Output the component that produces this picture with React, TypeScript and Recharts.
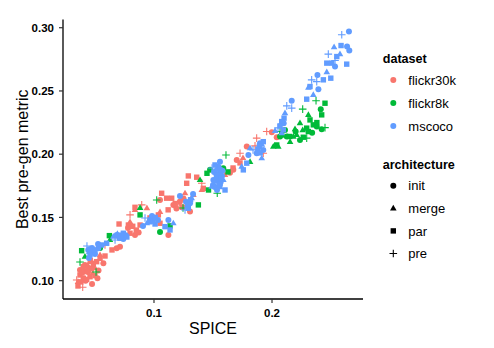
import React from 'react';
import { ScatterChart, Scatter, XAxis, YAxis } from 'recharts';

// ---- data: [SPICE, best pre-gen metric] ----
const flickr30kInit: [number, number][] = [
  [0.0521, 0.1019], [0.0571, 0.1137], [0.0441, 0.1069], [0.0475, 0.0974], [0.0684, 0.1256],
  [0.0712, 0.1269], [0.0839, 0.1361], [0.0780, 0.1417], [0.1122, 0.1361], [0.1305, 0.1546],
  [0.1220, 0.1625], [0.1164, 0.1599], [0.1644, 0.1854], [0.1672, 0.1876], [0.1786, 0.2060],
  [0.1998, 0.2174], [0.2040, 0.2134], [0.1701, 0.1955], [0.1051, 0.1638], [0.0373, 0.1084],
  [0.0415, 0.1124], [0.0420, 0.1000], [0.0530, 0.1080], [0.1190, 0.1570], [0.1250, 0.1650],
  [0.0870, 0.1380],
];
const flickr30kMerge: [number, number][] = [
  [0.0415, 0.1077], [0.0458, 0.1148], [0.0500, 0.1100], [0.0543, 0.1203], [0.0940, 0.1573],
  [0.0839, 0.1559], [0.1263, 0.1691], [0.1334, 0.1678], [0.1405, 0.1717], [0.1051, 0.1543],
  [0.1602, 0.1836], [0.1754, 0.1970], [0.0797, 0.1464], [0.0356, 0.0990], [0.0440, 0.1120],
  [0.0480, 0.1060],
];
const flickr30kPar: [number, number][] = [
  [0.0373, 0.1045], [0.0415, 0.1072], [0.0458, 0.1031], [0.0401, 0.1019], [0.0472, 0.1098],
  [0.0486, 0.1137], [0.0514, 0.1150], [0.0543, 0.1177], [0.0356, 0.0958], [0.0704, 0.1448],
  [0.0783, 0.1440], [0.0797, 0.1375], [0.0882, 0.1440], [0.0839, 0.1580], [0.1291, 0.1828],
  [0.1362, 0.1818], [0.1277, 0.1770], [0.1150, 0.1652], [0.1107, 0.1652], [0.1065, 0.1691],
  [0.1037, 0.1520], [0.1051, 0.1454], [0.1418, 0.1730], [0.1670, 0.1891], [0.1729, 0.1931],
  [0.0644, 0.1243], [0.0585, 0.1195], [0.0966, 0.1496], [0.0390, 0.1060], [0.0430, 0.1010],
  [0.0445, 0.1090], [0.0400, 0.1110], [0.0500, 0.1040], [0.0460, 0.1160], [0.0380, 0.0990],
  [0.1180, 0.1610], [0.1240, 0.1580], [0.1120, 0.1560], [0.0850, 0.1400], [0.0820, 0.1430],
];
const flickr30kPre: [number, number][] = [
  [0.0345, 0.1005], [0.0396, 0.0948], [0.0797, 0.1520], [0.0896, 0.1599], [0.1405, 0.1770],
  [0.1220, 0.1599], [0.1729, 0.2008], [0.1870, 0.2127], [0.1955, 0.2179], [0.1856, 0.2066],
  [0.1926, 0.2008], [0.0585, 0.1282],
];

const flickr8kInit: [number, number][] = [
  [0.2413, 0.2356], [0.2379, 0.2218], [0.2421, 0.2198], [0.2110, 0.2192], [0.2068, 0.2139],
  [0.2125, 0.2139], [0.2237, 0.2113], [0.1475, 0.1876], [0.1587, 0.1889], [0.0712, 0.1338],
  [0.0543, 0.1259], [0.1051, 0.1385], [0.2200, 0.2180], [0.2340, 0.2170],
];
const flickr8kMerge: [number, number][] = [
  [0.2308, 0.2311], [0.2237, 0.2245], [0.2195, 0.2198], [0.2209, 0.2152], [0.2181, 0.2139],
  [0.2011, 0.2060], [0.2053, 0.2060], [0.2153, 0.2097], [0.0415, 0.1190], [0.1390, 0.1796],
  [0.0882, 0.1575], [0.1814, 0.1939], [0.0627, 0.1322], [0.2260, 0.2190],
];
const flickr8kPar: [number, number][] = [
  [0.2449, 0.2403], [0.2421, 0.2311], [0.2322, 0.2271], [0.2350, 0.2232], [0.2294, 0.2206],
  [0.2308, 0.2179], [0.2082, 0.2152], [0.2040, 0.2073], [0.2265, 0.2134], [0.0387, 0.1237],
  [0.0622, 0.1356], [0.1462, 0.1717], [0.1449, 0.1849], [0.1376, 0.1599], [0.0882, 0.1520],
  [0.1136, 0.1433], [0.1627, 0.1860], [0.2150, 0.2140], [0.2380, 0.2250],
];
const flickr8kPre: [number, number][] = [
  [0.2373, 0.2422], [0.2260, 0.2356], [0.2449, 0.2210], [0.2294, 0.2127], [0.2068, 0.2179],
  [0.1536, 0.1691], [0.1023, 0.1638], [0.1246, 0.1575], [0.0373, 0.1148], [0.0509, 0.1069],
  [0.1610, 0.1994],
];

const mscocoInit: [number, number][] = [
  [0.2652, 0.2970], [0.2636, 0.2851], [0.2655, 0.2819], [0.2534, 0.2693], [0.2385, 0.2627],
  [0.2393, 0.2514], [0.2167, 0.2422], [0.2093, 0.2247], [0.1898, 0.2087], [0.1926, 0.2034],
  [0.1870, 0.2008], [0.1559, 0.1941], [0.1531, 0.1836], [0.1503, 0.1796], [0.1559, 0.1757],
  [0.1305, 0.1612], [0.1122, 0.1480], [0.0966, 0.1480], [0.0684, 0.1361], [0.0443, 0.1243],
  [0.0528, 0.1256], [0.2099, 0.2245], [0.1800, 0.1994], [0.1509, 0.1860], [0.1576, 0.1828],
  [0.1534, 0.1717], [0.1551, 0.1883], [0.1500, 0.1757], [0.0475, 0.1259], [0.0526, 0.1290],
  [0.0449, 0.1180], [0.0983, 0.1512], [0.1034, 0.1480], [0.0907, 0.1433], [0.1220, 0.1670],
  [0.1271, 0.1623], [0.1331, 0.1686], [0.1543, 0.1812], [0.1560, 0.1850], [0.1520, 0.1790],
  [0.1580, 0.1870], [0.1545, 0.1900], [0.1515, 0.1740], [0.1565, 0.1780], [0.0700, 0.1350],
  [0.0740, 0.1330], [0.0760, 0.1360], [0.0470, 0.1230], [0.0500, 0.1210],
];
const mscocoMerge: [number, number][] = [
  [0.2526, 0.2846], [0.2576, 0.2791], [0.2464, 0.2649], [0.2308, 0.2527], [0.2350, 0.2469],
  [0.2110, 0.2324], [0.2082, 0.2166], [0.1913, 0.1968], [0.1814, 0.2047], [0.1574, 0.1876],
  [0.1489, 0.1744], [0.1588, 0.1796], [0.1319, 0.1652], [0.1164, 0.1454], [0.0940, 0.1454],
  [0.0655, 0.1348], [0.0486, 0.1217], [0.2026, 0.2184], [0.1743, 0.1902], [0.1520, 0.1870],
  [0.1560, 0.1740], [0.0960, 0.1460], [0.0690, 0.1370], [0.0450, 0.1225], [0.1915, 0.2075],
];
const mscocoPar: [number, number][] = [
  [0.2585, 0.2859], [0.2549, 0.2772], [0.2464, 0.2720], [0.2506, 0.2720], [0.2633, 0.2712],
  [0.2435, 0.2588], [0.2498, 0.2601], [0.2322, 0.2535], [0.2294, 0.2435], [0.2102, 0.2285],
  [0.2082, 0.2258], [0.2096, 0.2192], [0.1926, 0.2099], [0.1893, 0.2060], [0.1517, 0.1915],
  [0.1543, 0.1812], [0.1602, 0.1717], [0.1291, 0.1573], [0.1093, 0.1427], [0.1136, 0.1401],
  [0.1009, 0.1448], [0.0712, 0.1335], [0.0740, 0.1375], [0.0599, 0.1296], [0.0557, 0.1282],
  [0.0458, 0.1203], [0.0500, 0.1243], [0.1757, 0.1876], [0.1786, 0.1929], [0.2068, 0.2224],
  [0.1530, 0.1830], [0.1570, 0.1810], [0.1550, 0.1760], [0.0990, 0.1470], [0.1010, 0.1500],
  [0.0720, 0.1360], [0.0770, 0.1345], [0.0460, 0.1250], [0.1880, 0.2040], [0.1900, 0.2010],
  [0.1285, 0.1600], [0.1310, 0.1640],
];
const mscocoPre: [number, number][] = [
  [0.2591, 0.2944], [0.2477, 0.2791], [0.2534, 0.2741], [0.2336, 0.2588], [0.2379, 0.2574],
  [0.2125, 0.2382], [0.2167, 0.2364], [0.1839, 0.2034], [0.1492, 0.1891], [0.1263, 0.1559],
  [0.0924, 0.1496], [0.0670, 0.1322], [0.0432, 0.1274], [0.2051, 0.2208],
];

const datasets = ['flickr30k', 'flickr8k', 'mscoco'];
const architectures = ['init', 'merge', 'par', 'pre'];
const xTicks = [0.1, 0.2];
const yTicks = [0.1, 0.15, 0.2, 0.25, 0.3];

const seriesTable: { dataset: string; arch: string; points: [number, number][] }[] = [
  { dataset: 'flickr30k', arch: 'init', points: flickr30kInit },
  { dataset: 'flickr30k', arch: 'merge', points: flickr30kMerge },
  { dataset: 'flickr30k', arch: 'par', points: flickr30kPar },
  { dataset: 'flickr30k', arch: 'pre', points: flickr30kPre },
  { dataset: 'flickr8k', arch: 'init', points: flickr8kInit },
  { dataset: 'flickr8k', arch: 'merge', points: flickr8kMerge },
  { dataset: 'flickr8k', arch: 'par', points: flickr8kPar },
  { dataset: 'flickr8k', arch: 'pre', points: flickr8kPre },
  { dataset: 'mscoco', arch: 'init', points: mscocoInit },
  { dataset: 'mscoco', arch: 'merge', points: mscocoMerge },
  { dataset: 'mscoco', arch: 'par', points: mscocoPar },
  { dataset: 'mscoco', arch: 'pre', points: mscocoPre },
];

const COLORS: Record<string, string> = {
  flickr30k: '#F8766D',
  flickr8k: '#00BA38',
  mscoco: '#619CFF',
};

function drawShape(arch: string, cx: number, cy: number, color: string, key?: string) {
  switch (arch) {
    case 'init':
      return <circle key={key} cx={cx} cy={cy} r={3} fill={color} />;
    case 'merge':
      return (
        <polygon
          key={key}
          points={`${cx},${cy - 3.6} ${cx - 3.3},${cy + 2.1} ${cx + 3.3},${cy + 2.1}`}
          fill={color}
        />
      );
    case 'par':
      return <rect key={key} x={cx - 2.7} y={cy - 2.7} width={5.4} height={5.4} fill={color} />;
    default:
      return (
        <path
          key={key}
          d={`M${cx - 3.8},${cy}H${cx + 3.8}M${cx},${cy - 3.8}V${cy + 3.8}`}
          stroke={color}
          strokeWidth={1.1}
          fill="none"
        />
      );
  }
}

const makeShape = (arch: string, color: string) => (props: any) => {
  const { cx, cy } = props;
  if (cx == null || cy == null) return <g />;
  return drawShape(arch, cx, cy, color);
};

const tickStyle = { fontFamily: 'Liberation Sans, Arial, sans-serif', fontSize: 11.5, fontWeight: 700, fill: '#000' };
const titleFont = 'Liberation Sans, Arial, sans-serif';

export default function App() {
  return (
    <div style={{ position: 'relative', width: 486, height: 340 }}>
      <ScatterChart
        width={486}
        height={340}
        margin={{ top: 11.5, right: 131, bottom: 25, left: 0 }}
      >
        <XAxis
          type="number"
          dataKey="x"
          domain={[0.0229, 0.2771]}
          allowDataOverflow
          ticks={xTicks}
          tickFormatter={(v: number) => v.toFixed(1)}
          height={24}
          tickSize={4}
          tickMargin={6}
          axisLine={{ stroke: '#000', strokeWidth: 1.3 }}
          tickLine={{ stroke: '#333', strokeWidth: 1.2 }}
          tick={tickStyle}
          label={{
            value: 'SPICE',
            position: 'bottom',
            offset: 0,
            style: { fontFamily: titleFont, fontSize: 16, fill: '#000' },
          }}
        />
        <YAxis
          type="number"
          dataKey="y"
          domain={[0.0855, 0.3065]}
          allowDataOverflow
          ticks={yTicks}
          tickFormatter={(v: number) => v.toFixed(2)}
          width={55}
          tickSize={4}
          tickMargin={5}
          axisLine={{ stroke: '#000', strokeWidth: 1.3 }}
          tickLine={{ stroke: '#333', strokeWidth: 1.2 }}
          tick={tickStyle}
          label={{
            value: 'Best pre-gen metric',
            angle: -90,
            position: 'insideLeft',
            offset: 14,
            style: { fontFamily: titleFont, fontSize: 16, fill: '#000', textAnchor: 'middle' },
          }}
        />
        {seriesTable.map((s) => (
          <Scatter
            key={`${s.dataset}-${s.arch}`}
            name={`${s.dataset}-${s.arch}`}
            data={s.points.map(([x, y]) => ({ x, y }))}
            shape={makeShape(s.arch, COLORS[s.dataset])}
            isAnimationActive={false}
          />
        ))}
      </ScatterChart>
      <svg
        width={486}
        height={340}
        style={{ position: 'absolute', left: 0, top: 0, pointerEvents: 'none' }}
      >
        <text x={374.7} y={54.8} fontFamily={titleFont} fontSize={12.6} fontWeight={700} fill="#000">
          dataset
        </text>
        {datasets.map((d, i) => (
          <g key={d}>
            {drawShape('init', 385.3, 72 + i * 23, COLORS[d])}
            <text x={400.3} y={72 + i * 23 + 4.6} fontFamily={titleFont} fontSize={13} fill="#000">
              {d}
            </text>
          </g>
        ))}
        <text x={374.7} y={160.5} fontFamily={titleFont} fontSize={12.6} fontWeight={700} fill="#000">
          architecture
        </text>
        {architectures.map((a, i) => (
          <g key={a}>
            {drawShape(a, 385.3, 177.7 + i * 22.6, '#000')}
            <text x={400.3} y={177.7 + i * 22.6 + 4.6} fontFamily={titleFont} fontSize={13} fill="#000">
              {a}
            </text>
          </g>
        ))}
      </svg>
    </div>
  );
}
